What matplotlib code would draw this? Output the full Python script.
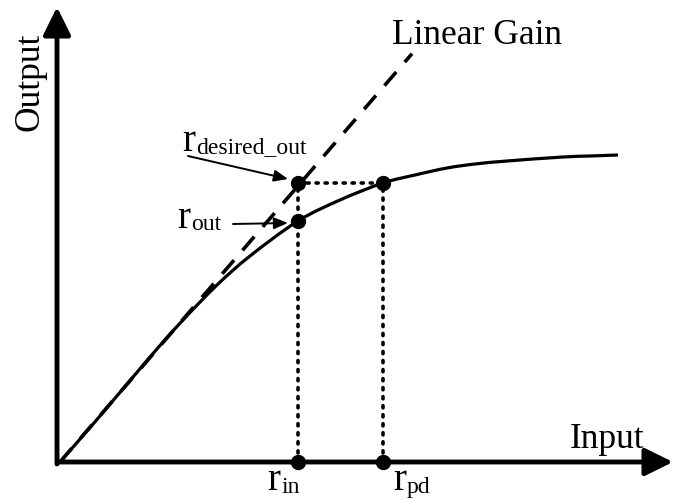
import numpy as np
import matplotlib.pyplot as plt
from matplotlib.path import Path
from matplotlib.patches import PathPatch
from matplotlib.transforms import offset_copy

plt.rcParams['font.family'] = ['Liberation Serif', 'DejaVu Serif']

# amplifier curve (input, output)
curve_in = [0, 0.40, 0.90, 1.23, 1.57, 1.90, 2.38, 2.80, 3.23, 3.55, 3.87, 4.15, 4.47, 5.03, 5.30, 5.58]
curve_out = [0, 0.46, 1.05, 1.42, 1.77, 2.06, 2.41, 2.62, 2.79, 2.87, 2.94, 2.98, 3.01, 3.05, 3.06, 3.07]
gain = 1.16
gain_end = 3.52
r_in = 2.38
r_pd = 3.23
r_out = 2.41
r_desired = 2.79

fig = plt.figure(figsize=(6.74, 5), dpi=100)
ax = fig.add_axes([0, 0, 1, 1])
ax.set_xlim(-0.6, 6.14)
ax.set_ylim(-0.38, 4.62)
ax.axis('off')

# axes with arrow heads
arr = dict(arrowstyle='-|>,head_length=0.85,head_width=0.42', lw=3.5, color='k',
           shrinkA=0, shrinkB=0, mutation_scale=20)
ax.annotate('', xy=(6.13, 0), xytext=(-0.02, 0), arrowprops=arr)
ax.annotate('', xy=(-0.03, 4.55), xytext=(-0.03, -0.02), arrowprops=arr)

# linear gain
ax.plot([0, gain_end], [0, gain * gain_end], color='k', lw=2.6, dashes=(5, 3.6))

# saturating curve, drawn smooth through the read points (catmull-rom -> bezier)
p = np.column_stack([curve_in, curve_out])
verts = [p[0]]
codes = [Path.MOVETO]
for i in range(len(p) - 1):
    p0 = p[max(i - 1, 0)]
    p1, p2 = p[i], p[i + 1]
    p3 = p[min(i + 2, len(p) - 1)]
    verts += [p1 + (p2 - p0) / 6, p2 - (p3 - p1) / 6, p2]
    codes += [Path.CURVE4] * 3
ax.add_patch(PathPatch(Path(verts, codes), fill=False, lw=2.3, edgecolor='k', capstyle='butt'))

# dotted guides
dot = dict(color='k', lw=2.6, linestyle=(0, (0.6, 1.9)), dash_capstyle='round')
ax.plot([r_in, r_in], [0, r_desired], **dot)
ax.plot([r_pd, r_pd], [0, r_desired], **dot)
ax.plot([r_in, r_pd], [r_desired, r_desired], **dot)

ax.plot([r_in, r_in, r_pd, r_in, r_pd], [r_out, r_desired, r_desired, 0, 0],
        'o', color='k', ms=10, zorder=5)

# labels
ax.text(3.32, 4.18, 'Linear Gain', fontsize=25.5, ha='left', va='baseline')
ax.text(5.10, 0.14, 'Input', fontsize=25.5, ha='left', va='baseline')
ax.text(-0.47, 4.29, 'Output', fontsize=25.5, rotation=90, ha='left', va='top')


def r_label(x, y, sub, size=28, sub_size=17):
    ax.text(x, y, 'r', fontsize=size, ha='left', va='baseline')
    tr = offset_copy(ax.transData, fig=fig, x=0.36 * size, y=-1.5, units='points')
    ax.text(x, y, sub, fontsize=sub_size, ha='left', va='baseline', transform=tr)


r_label(2.07, -0.285, 'in')
r_label(3.33, -0.285, 'pd')
r_label(1.17, 2.34, 'out')
r_label(1.22, 3.11, 'desired_out')

small = dict(arrowstyle='-|>,head_length=0.6,head_width=0.25', lw=1.4, color='k',
             shrinkA=0, shrinkB=0, mutation_scale=14)
ax.annotate('', xy=(2.28, 2.83), xytext=(1.28, 3.06), arrowprops=small)
ax.annotate('', xy=(2.28, 2.39), xytext=(1.73, 2.38), arrowprops=small)

fig.savefig('out.png', dpi=100, facecolor='white')
